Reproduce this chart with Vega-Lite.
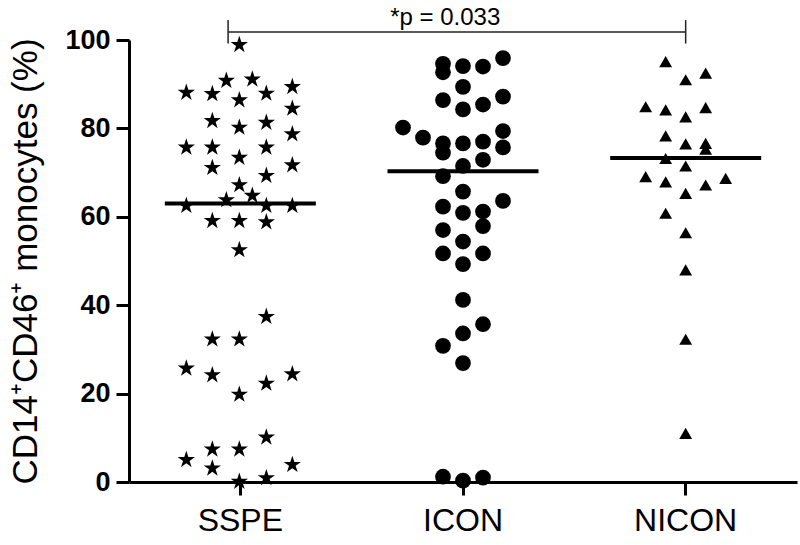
{
  "$schema": "https://vega.github.io/schema/vega-lite/v6.json",
  "width": 668,
  "height": 442,
  "autosize": "none",
  "padding": {"left": 129, "top": 40, "right": 3, "bottom": 63},
  "background": "white",
  "config": {"view": {"stroke": null}, "font": "Liberation Sans"},
  "datasets": {
    "points": [
      {"group": "SSPE", "value": 98.9, "col": -0.05},
      {"group": "SSPE", "value": 90.8, "col": -0.7},
      {"group": "SSPE", "value": 91.1, "col": 0.6},
      {"group": "SSPE", "value": 88.1, "col": -2.7},
      {"group": "SSPE", "value": 87.8, "col": -1.4},
      {"group": "SSPE", "value": 86.4, "col": -0.05},
      {"group": "SSPE", "value": 87.9, "col": 1.3},
      {"group": "SSPE", "value": 89.4, "col": 2.6},
      {"group": "SSPE", "value": 84.5, "col": 2.6},
      {"group": "SSPE", "value": 81.7, "col": -1.4},
      {"group": "SSPE", "value": 80.2, "col": -0.05},
      {"group": "SSPE", "value": 81.3, "col": 1.3},
      {"group": "SSPE", "value": 78.7, "col": 2.6},
      {"group": "SSPE", "value": 75.7, "col": -2.7},
      {"group": "SSPE", "value": 75.7, "col": -1.4},
      {"group": "SSPE", "value": 75.7, "col": 1.3},
      {"group": "SSPE", "value": 73.4, "col": -0.05},
      {"group": "SSPE", "value": 71.1, "col": -1.4},
      {"group": "SSPE", "value": 71.7, "col": 2.6},
      {"group": "SSPE", "value": 69.3, "col": 1.3},
      {"group": "SSPE", "value": 67.2, "col": -0.05},
      {"group": "SSPE", "value": 63.8, "col": -0.7},
      {"group": "SSPE", "value": 64.8, "col": 0.6},
      {"group": "SSPE", "value": 62.5, "col": -2.7},
      {"group": "SSPE", "value": 62.5, "col": 1.3},
      {"group": "SSPE", "value": 62.5, "col": 2.6},
      {"group": "SSPE", "value": 59.1, "col": -1.4},
      {"group": "SSPE", "value": 59.1, "col": -0.05},
      {"group": "SSPE", "value": 58.8, "col": 1.3},
      {"group": "SSPE", "value": 52.5, "col": -0.05},
      {"group": "SSPE", "value": 37.4, "col": 1.3},
      {"group": "SSPE", "value": 32.3, "col": -1.4},
      {"group": "SSPE", "value": 32.3, "col": -0.05},
      {"group": "SSPE", "value": 25.7, "col": -2.7},
      {"group": "SSPE", "value": 24.2, "col": -1.4},
      {"group": "SSPE", "value": 24.4, "col": 2.6},
      {"group": "SSPE", "value": 22.3, "col": 1.3},
      {"group": "SSPE", "value": 19.8, "col": -0.05},
      {"group": "SSPE", "value": 10.1, "col": 1.3},
      {"group": "SSPE", "value": 7.4, "col": -1.4},
      {"group": "SSPE", "value": 7.4, "col": -0.05},
      {"group": "SSPE", "value": 5.0, "col": -2.7},
      {"group": "SSPE", "value": 3.1, "col": -1.4},
      {"group": "SSPE", "value": 3.9, "col": 2.6},
      {"group": "SSPE", "value": 0.1, "col": -0.05},
      {"group": "SSPE", "value": 0.9, "col": 1.3},
      {"group": "ICON", "value": 95.9, "col": 2},
      {"group": "ICON", "value": 94.6, "col": -1},
      {"group": "ICON", "value": 92.7, "col": -1},
      {"group": "ICON", "value": 94.1, "col": 0},
      {"group": "ICON", "value": 94.0, "col": 1},
      {"group": "ICON", "value": 89.4, "col": 0},
      {"group": "ICON", "value": 86.4, "col": -1},
      {"group": "ICON", "value": 87.2, "col": 2},
      {"group": "ICON", "value": 84.3, "col": 0},
      {"group": "ICON", "value": 85.4, "col": 1},
      {"group": "ICON", "value": 80.2, "col": -3},
      {"group": "ICON", "value": 77.9, "col": -2},
      {"group": "ICON", "value": 76.6, "col": -1},
      {"group": "ICON", "value": 74.5, "col": -1},
      {"group": "ICON", "value": 76.6, "col": 0},
      {"group": "ICON", "value": 77.0, "col": 1},
      {"group": "ICON", "value": 79.4, "col": 2},
      {"group": "ICON", "value": 75.7, "col": 2},
      {"group": "ICON", "value": 72.9, "col": 1},
      {"group": "ICON", "value": 71.5, "col": 0},
      {"group": "ICON", "value": 69.2, "col": -1},
      {"group": "ICON", "value": 65.7, "col": 0},
      {"group": "ICON", "value": 63.6, "col": 2},
      {"group": "ICON", "value": 62.3, "col": -1},
      {"group": "ICON", "value": 60.9, "col": 0},
      {"group": "ICON", "value": 61.2, "col": 1},
      {"group": "ICON", "value": 57.0, "col": -1},
      {"group": "ICON", "value": 57.9, "col": 1},
      {"group": "ICON", "value": 54.4, "col": 0},
      {"group": "ICON", "value": 51.7, "col": -1},
      {"group": "ICON", "value": 51.7, "col": 1},
      {"group": "ICON", "value": 49.3, "col": 0},
      {"group": "ICON", "value": 41.2, "col": 0},
      {"group": "ICON", "value": 35.7, "col": 1},
      {"group": "ICON", "value": 33.6, "col": 0},
      {"group": "ICON", "value": 30.8, "col": -1},
      {"group": "ICON", "value": 26.9, "col": 0},
      {"group": "ICON", "value": 1.2, "col": -1},
      {"group": "ICON", "value": 1.0, "col": 1},
      {"group": "ICON", "value": 0.3, "col": 0},
      {"group": "NICON", "value": 95.1, "col": -1},
      {"group": "NICON", "value": 92.5, "col": 1},
      {"group": "NICON", "value": 91.0, "col": 0},
      {"group": "NICON", "value": 84.9, "col": -2},
      {"group": "NICON", "value": 84.2, "col": -1},
      {"group": "NICON", "value": 84.7, "col": 1},
      {"group": "NICON", "value": 82.6, "col": 0},
      {"group": "NICON", "value": 78.3, "col": -1},
      {"group": "NICON", "value": 76.5, "col": 0},
      {"group": "NICON", "value": 76.6, "col": 1},
      {"group": "NICON", "value": 75.3, "col": 1},
      {"group": "NICON", "value": 73.2, "col": -1},
      {"group": "NICON", "value": 71.5, "col": 0},
      {"group": "NICON", "value": 69.1, "col": -2},
      {"group": "NICON", "value": 67.9, "col": -1},
      {"group": "NICON", "value": 67.2, "col": 1},
      {"group": "NICON", "value": 68.7, "col": 2},
      {"group": "NICON", "value": 65.3, "col": 0},
      {"group": "NICON", "value": 60.8, "col": -1},
      {"group": "NICON", "value": 56.4, "col": 0},
      {"group": "NICON", "value": 48.0, "col": 0},
      {"group": "NICON", "value": 32.3, "col": 0},
      {"group": "NICON", "value": 11.0, "col": 0}
    ],
    "medians": [
      {"group": "SSPE", "median": 63.0},
      {"group": "ICON", "median": 70.3},
      {"group": "NICON", "median": 73.3}
    ],
    "bracket": [
      {"from": "SSPE", "to": "NICON", "y": 101.8, "ylo": 99.2, "yhi": 104.5, "mid": "ICON", "labelY": 103.5, "label": "*p = 0.033"}
    ]
  },
  "layer": [
    {
      "data": {"name": "medians"},
      "mark": {"type": "tick", "color": "black", "thickness": 4, "size": 151, "opacity": 1},
      "encoding": {
        "x": {
          "field": "group", "type": "nominal",
          "scale": {"type": "band", "domain": ["SSPE", "ICON", "NICON"], "paddingInner": 0, "paddingOuter": 0},
          "axis": {
            "title": null, "orient": "bottom", "labelAngle": 0, "bandPosition": 0.5,
            "tickSize": 13, "tickWidth": 3, "tickColor": "black",
            "domainWidth": 3, "domainColor": "black",
            "labelFontSize": 32, "labelColor": "black", "labelPadding": 10, "labelFont": "Liberation Sans"
          }
        },
        "y": {
          "field": "median", "type": "quantitative",
          "scale": {"domain": [0, 100], "nice": false, "zero": true},
          "axis": {
            "values": [0, 20, 40, 60, 80, 100], "grid": false,
            "tickSize": 13, "tickWidth": 3, "tickColor": "black",
            "domainWidth": 3, "domainColor": "black",
            "labelFontSize": 27, "labelFontWeight": "bold", "labelColor": "black", "labelPadding": 6, "labelFont": "Liberation Sans",
            "title": "CD14⁺CD46⁺ monocytes (%)",
            "titleFontSize": 35, "titleFontWeight": "normal", "titleColor": "black", "titleFont": "Liberation Sans",
            "titleX": -93, "titleY": 221, "titleAngle": -90, "titleAlign": "center", "titleBaseline": "alphabetic"
          }
        }
      }
    },
    {
      "data": {"name": "points"},
      "mark": {"type": "point", "filled": true, "color": "black", "opacity": 1, "strokeWidth": 0},
      "encoding": {
        "x": {"field": "group", "type": "nominal"},
        "xOffset": {"field": "col", "type": "quantitative", "scale": {"domain": [-3, 3], "range": [51.33, 171.33]}},
        "y": {"field": "value", "type": "quantitative"},
        "shape": {
          "field": "group", "type": "nominal", "legend": null,
          "scale": {"domain": ["SSPE", "ICON", "NICON"], "range": ["M0,-1L0.225,-0.309L0.951,-0.309L0.363,0.118L0.588,0.809L0,0.382L-0.588,0.809L-0.363,0.118L-0.951,-0.309L-0.225,-0.309Z", "circle", "triangle-up"]}
        },
        "size": {
          "field": "group", "type": "nominal", "legend": null,
          "scale": {"domain": ["SSPE", "ICON", "NICON"], "range": [330, 165, 215]}
        }
      }
    },
    {
      "data": {"name": "bracket"},
      "mark": {"type": "rule", "color": "#222222", "strokeWidth": 1.5},
      "encoding": {
        "x": {"field": "from", "type": "nominal", "bandPosition": 0.445},
        "x2": {"field": "to", "bandPosition": 0.5},
        "y": {"field": "y", "type": "quantitative"}
      }
    },
    {
      "data": {"name": "bracket"},
      "mark": {"type": "rule", "color": "#222222", "strokeWidth": 1.5},
      "encoding": {
        "x": {"field": "from", "type": "nominal", "bandPosition": 0.445},
        "y": {"field": "ylo", "type": "quantitative"},
        "y2": {"field": "yhi"}
      }
    },
    {
      "data": {"name": "bracket"},
      "mark": {"type": "rule", "color": "#222222", "strokeWidth": 1.5},
      "encoding": {
        "x": {"field": "to", "type": "nominal", "bandPosition": 0.5},
        "y": {"field": "ylo", "type": "quantitative"},
        "y2": {"field": "yhi"}
      }
    },
    {
      "data": {"name": "bracket"},
      "mark": {"type": "text", "color": "black", "fontSize": 24, "font": "Liberation Sans", "baseline": "alphabetic", "align": "center"},
      "encoding": {
        "x": {"field": "mid", "type": "nominal", "bandPosition": 0.42},
        "y": {"field": "labelY", "type": "quantitative"},
        "text": {"field": "label"}
      }
    }
  ]
}
